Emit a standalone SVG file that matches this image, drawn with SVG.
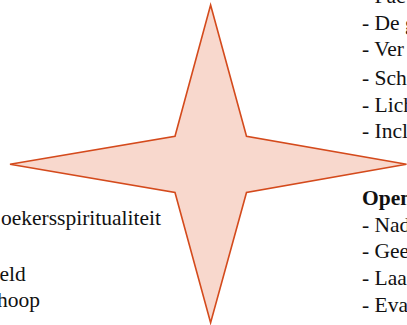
<svg xmlns="http://www.w3.org/2000/svg" width="407" height="325" viewBox="0 0 407 325">
<style>
.t{font-family:"Liberation Serif","DejaVu Serif",serif;font-size:21.5px;fill:#111}
.b{font-weight:bold}
</style>
<rect width="407" height="325" fill="#fff"/>
<g id="star">
<polygon points="210.6,5 246.5,136.3 406.5,164.3 246.5,192.5 210.6,322.7 175,192.5 10,164.3 175,136.3" fill="#F8D8CD" stroke="#D44A1C" stroke-width="1.6" stroke-linejoin="miter"/>
</g>
<g id="right-top" class="t">
<text x="362" y="3">- Fac</text>
<text x="362" y="29.5">- De g</text>
<text x="362" y="56">- Ver</text>
<text x="362" y="85">- Sche</text>
<text x="362" y="111.5">- Lich</text>
<text x="362" y="138">- Incl</text>
</g>
<g id="right-bottom" class="t">
<text x="362" y="204.5" class="b">Open</text>
<text x="362" y="231.5">- Nad</text>
<text x="362" y="258.3">- Gee</text>
<text x="362" y="285">- Laag</text>
<text x="362" y="312">- Evar</text>
</g>
<g id="left" class="t" text-anchor="end">
<text x="161" y="224.8">oekersspiritualiteit</text>
<text x="25.7" y="281">eld</text>
<text x="40" y="307">hoop</text>
</g>
</svg>
